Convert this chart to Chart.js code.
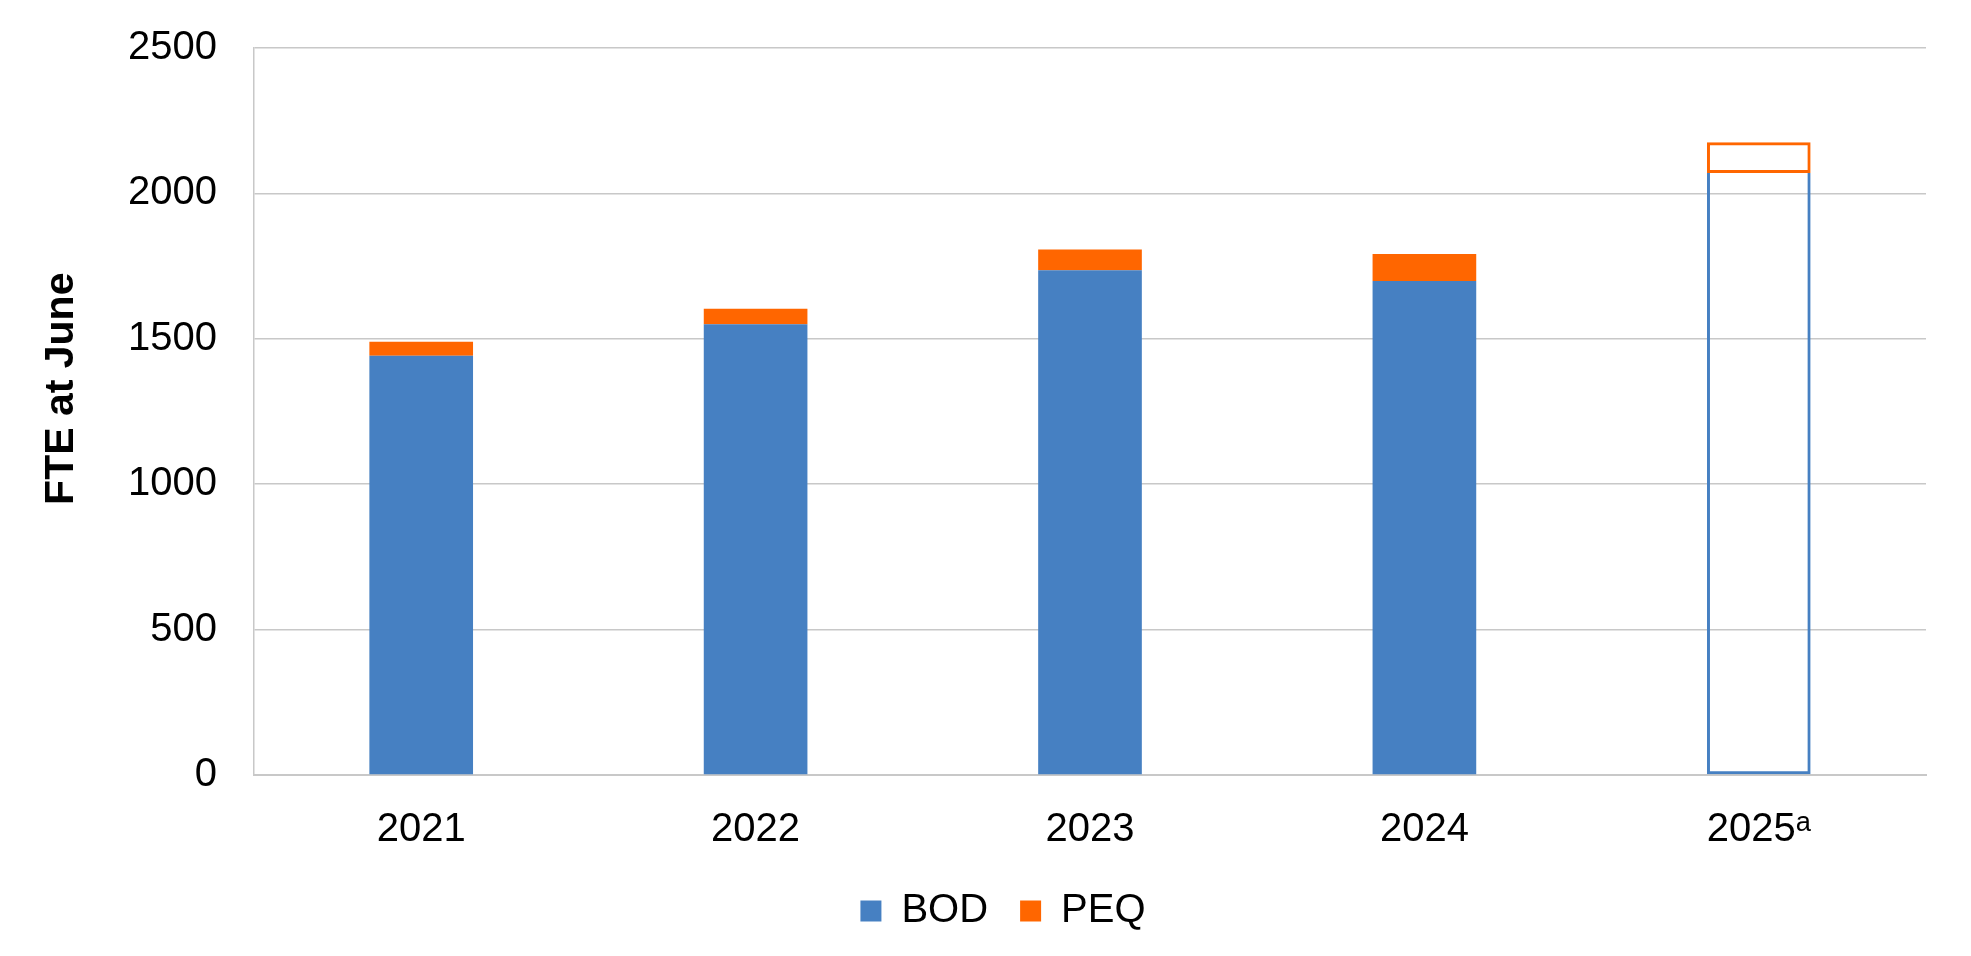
<!DOCTYPE html>
<html>
<head>
<meta charset="utf-8">
<script src="https://cdn.jsdelivr.net/npm/chart.js@4"></script>
<style>
  html, body { margin: 0; padding: 0; background: #fff; }
  #wrap { width: 1971px; height: 956px; }
</style>
</head>
<body>
<div id="wrap"><canvas id="fteChart"></canvas></div>
<script>
// data
const years = ['2021', '2022', '2023', '2024', '2025\u1D43'];
const bod = [1442, 1550, 1736, 1699, 2070];
const peq = [48, 53, 71, 93, 106];
const yTicks = [0, 500, 1000, 1500, 2000, 2500];

const blue = '#4680C2';
const orange = '#FF6600';
const gridGrey = '#C8C8C8';
const projected = 4; // 2025 is drawn as an outline only

Chart.defaults.font.family = '"Liberation Sans", Arial, sans-serif';
Chart.defaults.color = '#000';

// nudge the legend a bit right, the original sits off centre
const legendShift = {
  id: 'legendShift',
  afterLayout(chart) {
    chart.legend.left += 40;
    chart.legend.right += 40;
  }
};

new Chart('fteChart', {
  type: 'bar',
  data: {
    labels: years,
    datasets: [
      {
        label: 'BOD',
        data: bod,
        backgroundColor: c => c.dataIndex === projected ? 'rgba(0,0,0,0)' : blue,
        borderColor: blue,
        borderWidth: c => c.dataIndex === projected ? 3 : 0,
        borderSkipped: c => c.dataIndex === projected ? 'top' : 'start'
      },
      {
        label: 'PEQ',
        data: peq,
        backgroundColor: c => c.dataIndex === projected ? 'rgba(0,0,0,0)' : orange,
        borderColor: orange,
        borderWidth: c => c.dataIndex === projected ? 3 : 0,
        borderSkipped: c => c.dataIndex === projected ? false : 'start'
      }
    ]
  },
  plugins: [legendShift],
  options: {
    responsive: true,
    maintainAspectRatio: false,
    animation: false,
    events: [],
    layout: { padding: { top: 48, right: 45, left: 0, bottom: 15 } },
    datasets: { bar: { barPercentage: 0.31, categoryPercentage: 1 } },
    scales: {
      x: {
        stacked: true,
        afterFit: s => { s.height = 84; },
        grid: { display: false, drawTicks: false },
        border: { display: true, color: gridGrey, width: 2 },
        ticks: { font: { size: 40 }, padding: 31 }
      },
      y: {
        stacked: true,
        min: 0,
        max: 2500,
        afterBuildTicks: s => { s.ticks = yTicks.map(v => ({ value: v })); },
        afterFit: s => { s.width = 254; s.paddingTop = 0; s.paddingBottom = 0; },
        grid: { color: gridGrey, lineWidth: 1.5, drawTicks: false },
        border: { display: true, color: gridGrey, width: 1.5 },
        ticks: { font: { size: 40 }, padding: 37, callback: v => String(v) },
        title: {
          display: true,
          text: '    FTE at June',
          font: { size: 41, weight: 'bold' },
          padding: { top: 37, bottom: 0 }
        }
      }
    },
    plugins: {
      tooltip: { enabled: false },
      legend: {
        position: 'bottom',
        labels: { font: { size: 40 }, boxWidth: 21, boxHeight: 21, padding: 32 }
      }
    }
  }
});
</script>
</body>
</html>
